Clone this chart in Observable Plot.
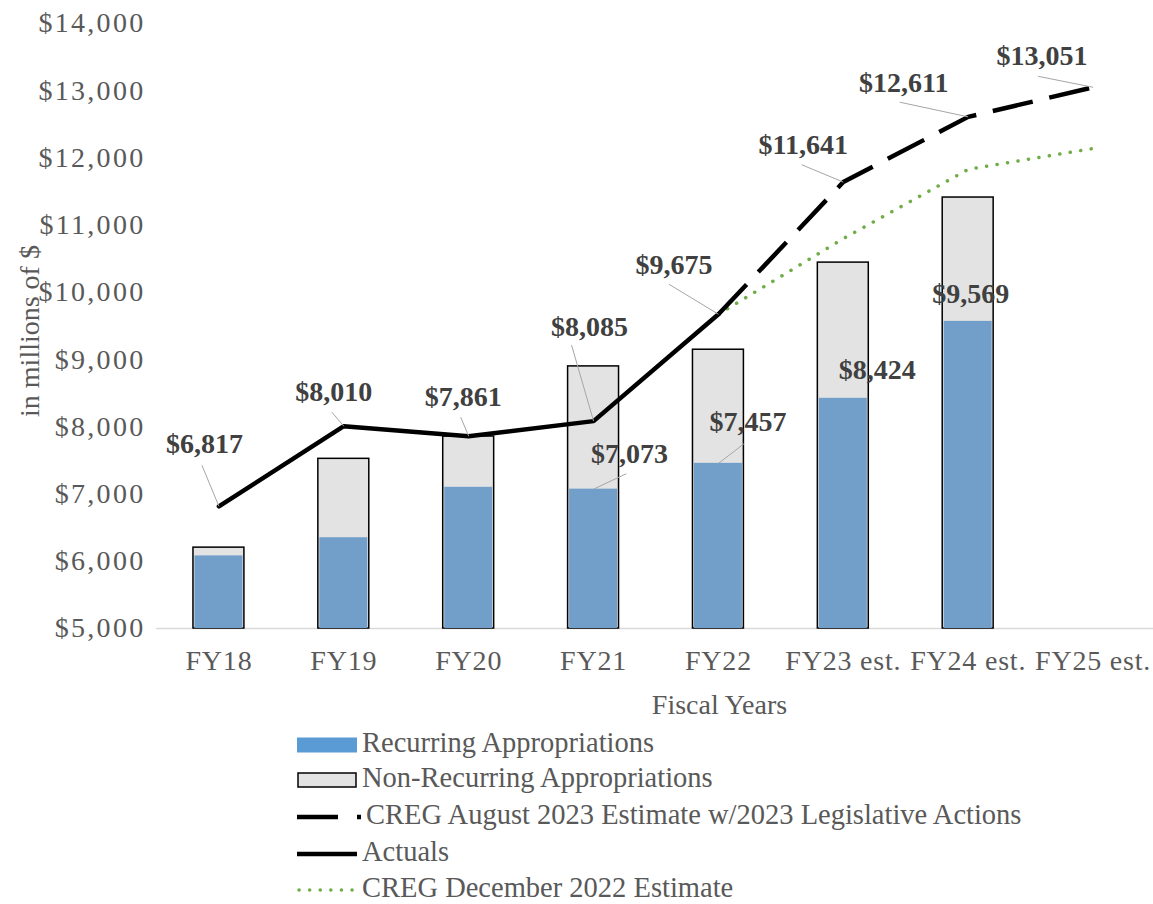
<!DOCTYPE html>
<html><head><meta charset="utf-8">
<script src="https://cdn.jsdelivr.net/npm/d3@7"></script>
<script src="https://cdn.jsdelivr.net/npm/@observablehq/plot@0.6"></script>
<style>
body{margin:0;background:#fff;}
#chart svg, #legend svg{display:block}
</style></head><body><div id="chart"></div><div id="legend"></div>
<script>
// ---- data ----
const categories = ["FY18","FY19","FY20","FY21","FY22","FY23 est.","FY24 est.","FY25 est."];
const recurring    = [6080, 6350, 7100, 7073, 7457, 8424, 9569, null];
const nonRecurring = [ 123, 1174,  756, 1826, 1690, 2019, 1842, null];
const actuals      = [6817, 8010, 7861, 8085, 9675, null, null, null];
const augEstimate  = [null, null, null, null, 9675, 11641, 12611, 13051];
const decEstimate  = [null, null, null, null, 9675, 10800, 11830, 12140];
const yTicks = [5000, 6000, 7000, 8000, 9000, 10000, 11000, 12000, 13000, 14000];
const legendLabels = ["Recurring Appropriations","Non-Recurring Appropriations","CREG August 2023 Estimate w/2023 Legislative Actions","Actuals","CREG December 2022 Estimate"];

// ---- label placement (pixel offsets: text dx, dy, leader start dx, dy) ----
const actualLabelOffsets = [[-14.5,-62,-17,-41],[-10,-34,-12,-14],[-5.5,-39,-8,-19],[-4,-94,-22,-76],[-44.5,-49,-49.5,-30]];
const augLabelOffsets    = [null,null,null,null,null,[-40,-37,-41.6,-17.3],[-64.5,-34,-68.5,-14.7],[-51,-31,-55,-11]];
const recLabelOffsets    = [null,null,null,[36,-35,32.7,-15.4],[29.5,-41,25.5,-19.5],[34,-28,null,null],[2.5,-27,null,null],null];

// ---- layout ----
const W = 1153, H = 720, mL = 156, mT = 23, mB = 92;
const xRange = [156, 1155];
const ux = (xRange[1] - xRange[0]) / categories.length;
const uy = (H - mB - mT) / (yTicks[yTicks.length - 1] - yTicks[0]);
const font = "'Liberation Serif', 'Times New Roman', serif";
const fmt = d3.format(",");
const idx = categories.map((_, i) => i);

const bars = idx.filter(i => recurring[i] != null).map(i => ({i, rec: recurring[i], total: recurring[i] + nonRecurring[i]}));
const pts = arr => idx.filter(i => arr[i] != null).map(i => ({i, v: arr[i]}));
const actualPts = pts(actuals), augPts = pts(augEstimate), decPts = pts(decEstimate);

const labels = [];
function addLabels(arr, offs) {
  idx.forEach(i => {
    const o = offs[i];
    if (!o || arr[i] == null) return;
    labels.push({
      i, v: arr[i], text: "$" + fmt(arr[i]),
      x: i + o[0] / ux, y: arr[i] - o[1] / uy,
      lx: o[2] == null ? null : i + o[2] / ux,
      ly: o[2] == null ? null : arr[i] - o[3] / uy
    });
  });
}
addLabels(actuals, actualLabelOffsets);
addLabels(augEstimate, augLabelOffsets);
addLabels(recurring, recLabelOffsets);
const leaders = labels.filter(d => d.lx != null);

const hw = 0.204;
const chart = Plot.plot({
  width: W, height: H,
  marginLeft: mL, marginRight: 0, marginTop: mT, marginBottom: mB,
  style: {fontFamily: font, fontSize: "28px", color: "#595959", background: "#fff"},
  x: {domain: [-0.5, categories.length - 0.5], range: xRange, ticks: idx, tickFormat: i => categories[i], tickSize: 0, tickPadding: 22, label: null},
  y: {domain: [yTicks[0], yTicks[yTicks.length - 1]], ticks: yTicks, tickFormat: d => "$" + fmt(d), tickSize: 0, tickPadding: 11, label: null},
  marks: [
    Plot.ruleY([yTicks[0]], {stroke: "#d9d9d9", strokeWidth: 1.5}),
    Plot.rectY(bars, {x1: d => d.i - hw, x2: d => d.i + hw, y1: yTicks[0], y2: "total", fill: "#e3e3e3", stroke: "#000", strokeWidth: 1.5}),
    Plot.rectY(bars, {x1: d => d.i - hw, x2: d => d.i + hw, y1: yTicks[0], y2: "rec", fill: "#729fca", insetLeft: 1.5, insetRight: 1.5}),
    Plot.line(decPts, {x: "i", y: "v", stroke: "#70ad47", strokeWidth: 3.5, strokeDasharray: "0.1,10.5", strokeLinecap: "round"}),
    Plot.line(augPts, {x: "i", y: "v", stroke: "#000", strokeWidth: 4.5, strokeDasharray: "41,17", strokeLinecap: "butt"}),
    Plot.line(actualPts, {x: "i", y: "v", stroke: "#000", strokeWidth: 4.5}),
    Plot.link(leaders, {x1: "lx", y1: "ly", x2: "i", y2: "v", stroke: "#a6a6a6", strokeWidth: 1}),
    Plot.text(labels, {x: "x", y: "y", text: "text", fontSize: 28, fontWeight: "bold", fill: "#404040", fontFamily: font}),
    Plot.text(["in millions of $"], {frameAnchor: "left", textAnchor: "middle", lineAnchor: "middle", rotate: -90, dx: -126, dy: 5, fontSize: 28, fill: "#595959", fontFamily: font}),
    Plot.text(["Fiscal Years"], {frameAnchor: "bottom", textAnchor: "middle", lineAnchor: "middle", dx: 64.5, dy: 77, fontSize: 28, fill: "#595959", fontFamily: font})
  ]
});
document.getElementById("chart").appendChild(chart);
// slightly wider tick lettering, as in the original rendering
d3.select(chart).selectAll('g[aria-label^="y-axis"] text').attr("letter-spacing", "2.3px");
d3.select(chart).selectAll('g[aria-label^="x-axis"] text').attr("letter-spacing", "0.8px");

// ---- legend ----
const rowsY = [25, 60, 97, 134, 170];
const lg = d3.select("#legend").append("svg").attr("width", W).attr("height", 904 - H)
  .style("font-family", font).style("font-size", "28.5px");
const sx = 297, sw = 60, tx = 362;
legendLabels.forEach((t, k) => {
  const y = rowsY[k];
  const g = lg.append("g");
  if (k === 0) g.append("rect").attr("x", sx).attr("y", y - 7.5).attr("width", sw).attr("height", 15).attr("fill", "#5b9bd5");
  if (k === 1) g.append("rect").attr("x", sx + 1).attr("y", y - 7).attr("width", sw - 2).attr("height", 14).attr("fill", "#e3e3e3").attr("stroke", "#000").attr("stroke-width", 1.5);
  if (k === 2) g.append("line").attr("x1", sx).attr("x2", sx + 64).attr("y1", y).attr("y2", y).attr("stroke", "#000").attr("stroke-width", 4.5).attr("stroke-dasharray", "41,19");
  if (k === 3) g.append("line").attr("x1", sx).attr("x2", sx + sw).attr("y1", y).attr("y2", y).attr("stroke", "#000").attr("stroke-width", 4.5);
  if (k === 4) g.append("line").attr("x1", sx + 2).attr("x2", sx + sw).attr("y1", y).attr("y2", y).attr("stroke", "#70ad47").attr("stroke-width", 3.5).attr("stroke-dasharray", "0.1,10.5").attr("stroke-linecap", "round");
  g.append("text").attr("x", k === 2 ? tx + 4 : tx).attr("y", y).attr("dominant-baseline", "middle").attr("fill", "#595959").text(t);
});
</script>
</body></html>
